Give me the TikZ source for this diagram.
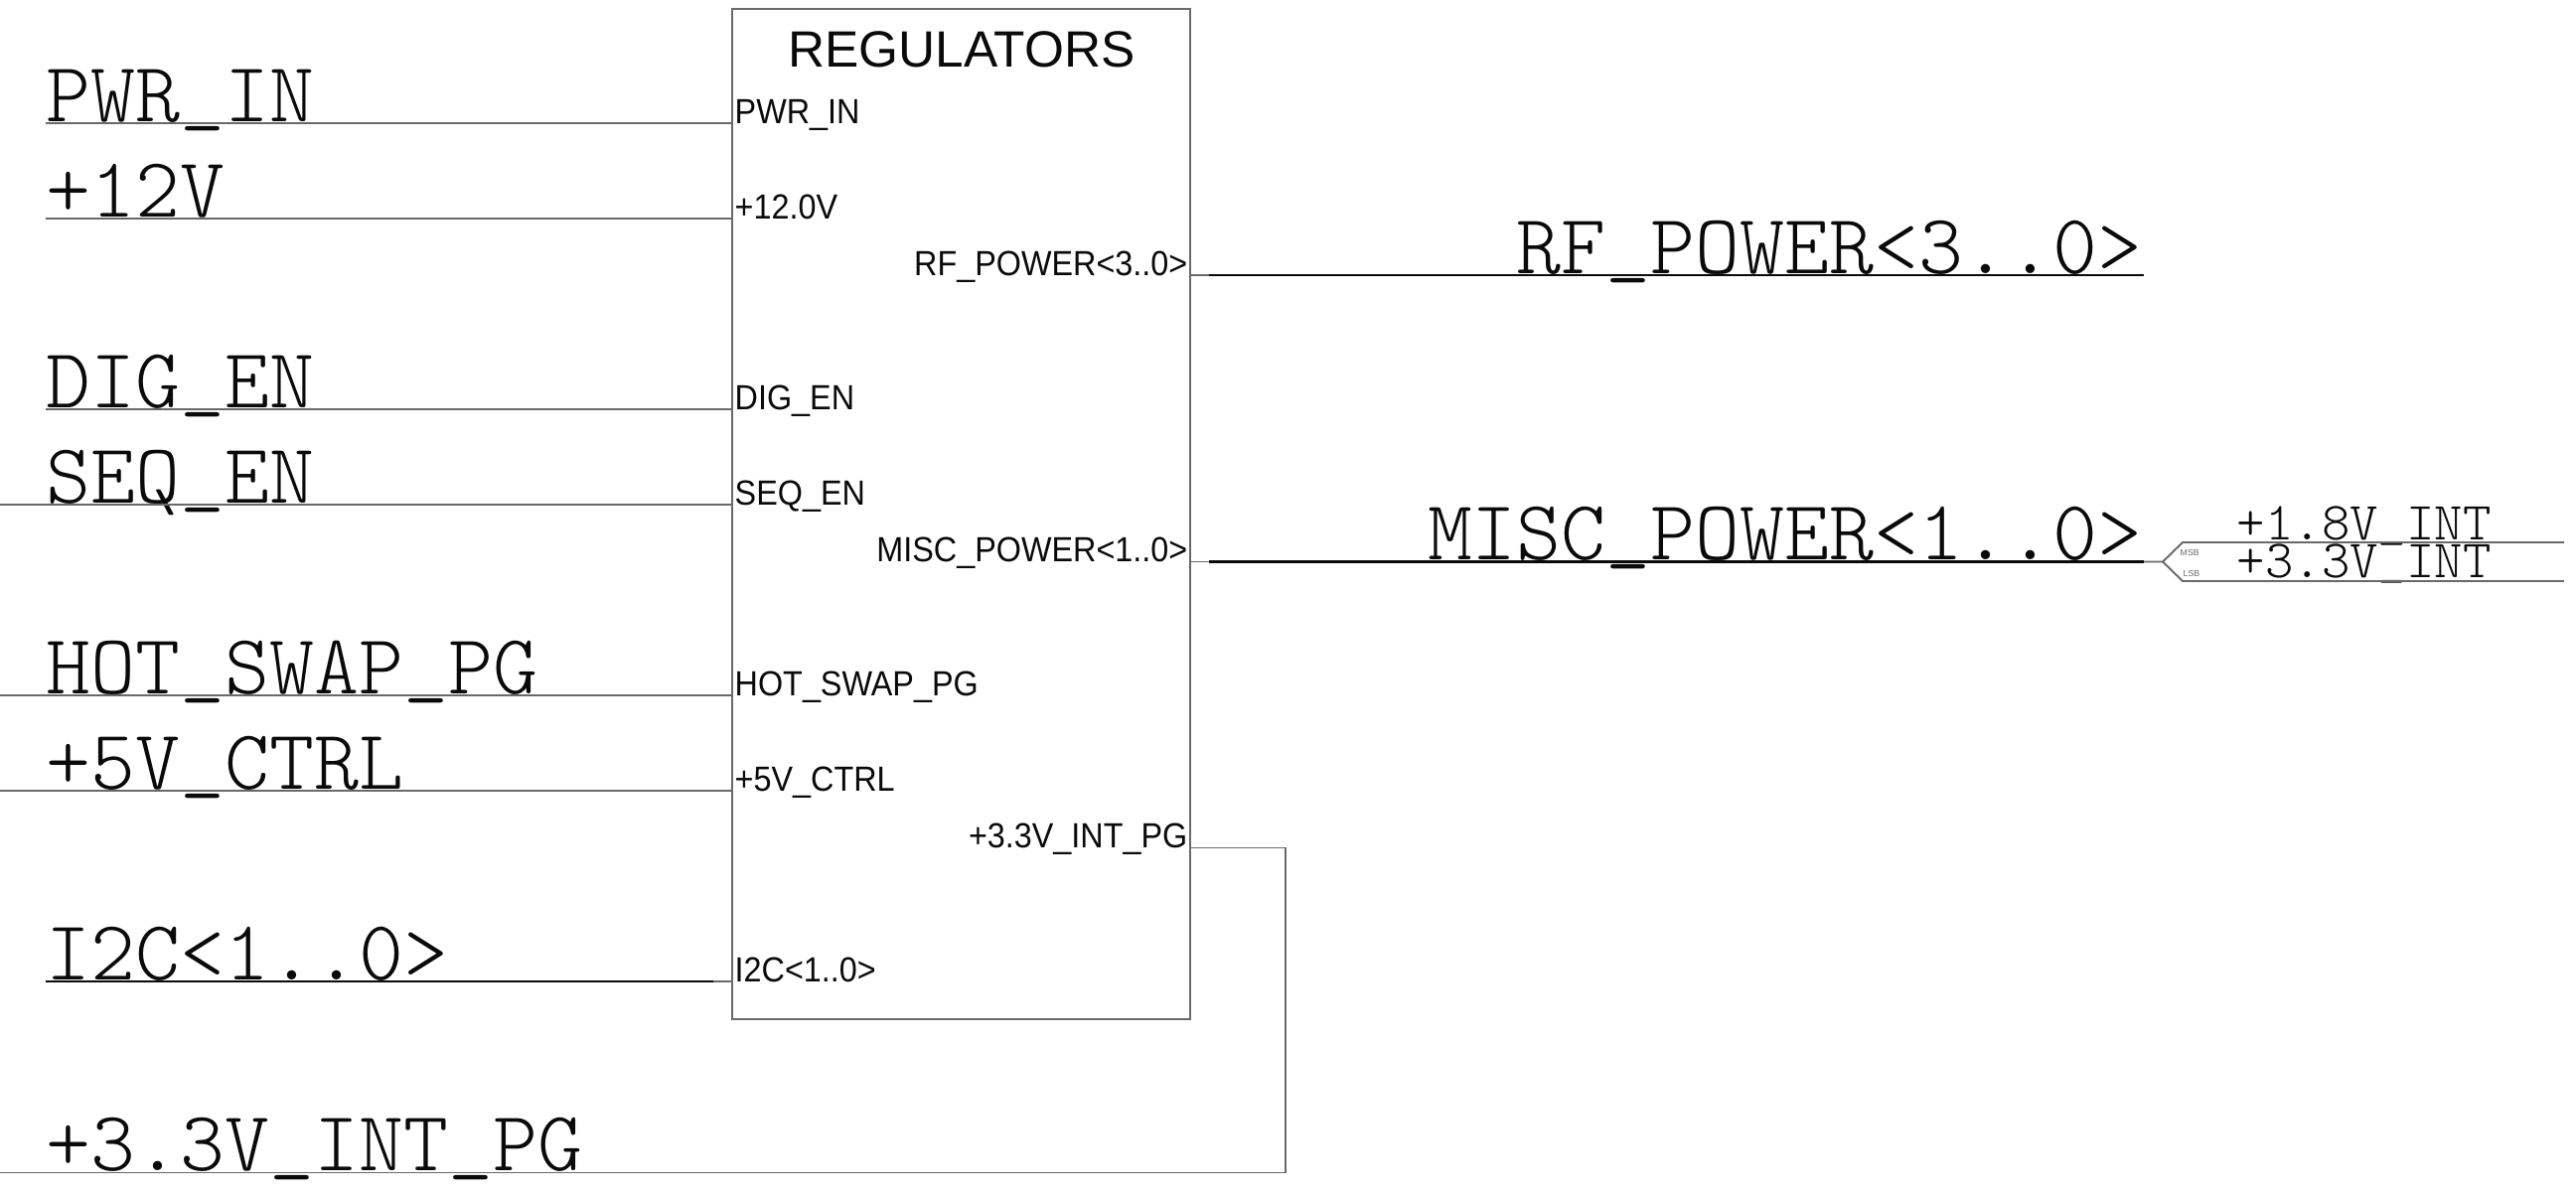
\documentclass[tikz,border=0pt]{standalone}
\usepackage{fontspec}
\setsansfont{Liberation Sans}
\newfontfamily\pinfont[FakeStretch=0.92]{Liberation Sans}
\usetikzlibrary{positioning}
\definecolor{WireGray}{RGB}{105,105,105}
\definecolor{NetBlack}{RGB}{10,10,10}
\newcommand{\netus}{\raisebox{0.07em}{\_}}
\tikzset{
    wire/.style={draw=WireGray, line width=0.55pt},
    bus/.style={draw=NetBlack, line width=0.8pt},
    netlabel/.style={inner sep=0pt, text=NetBlack, font=\fontsize{24.35}{26}\ttfamily\fontseries{l}\selectfont},
    smallnet/.style={inner sep=0pt, text=NetBlack, font=\fontsize{15.4}{17}\ttfamily\fontseries{l}\selectfont},
    pinlabel/.style={inner sep=0pt, text=NetBlack, font=\fontsize{10}{12}\pinfont},
    bitlabel/.style={inner sep=0pt, text=WireGray, font=\fontsize{2.5}{3}\sffamily}
}

\begin{document}
\begin{tikzpicture}[x=0.01cm, y=-0.01cm]
    \useasboundingbox (0,0) rectangle (2593,1203);

    % block
    \node [wire, rectangle, minimum width=4.61cm, minimum height=10.17cm, inner sep=0pt, outer sep=0pt] (regulators) at (967.5,517.5) {};
    \node [inner sep=0pt, anchor=base, text=NetBlack, font=\fontsize{14.6}{16}\sffamily] (title) at (968,67.5) {REGULATORS};

    % inputs
    \coordinate (pwrin) at (46,124);
    \coordinate (plus12) at (46,220);
    \coordinate (digen) at (46,412);
    \coordinate (seqen) at (0,508);
    \coordinate (hotswap) at (0,700);
    \coordinate (plus5) at (0,796);
    \coordinate (i2c) at (46,988);
    \coordinate (i2cend) at (718,988);

    \node [netlabel, anchor=base west] (pwrinnet) at (46,122) {PWR\netus IN};
    \node [netlabel, anchor=base west] (plus12net) at (46,218) {+12V};
    \node [netlabel, anchor=base west] (digennet) at (46,410) {DIG\netus EN};
    \node [netlabel, anchor=base west] (seqennet) at (46,506) {SEQ\netus EN};
    \node [netlabel, anchor=base west] (hotswapnet) at (46,698) {HOT\netus SWAP\netus PG};
    \node [netlabel, anchor=base west] (plus5net) at (46,794) {+5V\netus CTRL};
    \node [netlabel, anchor=base west] (i2cnet) at (46,986) {I2C<1..0>};
    \node [netlabel, anchor=base west] (pgnet) at (46,1178) {+3.3V\netus INT\netus PG};

    \node [pinlabel, anchor=base west] (pwrinpin) at (739,124) {PWR\_IN};
    \node [pinlabel, anchor=base west] (plus12pin) at (739,220) {+12.0V};
    \node [pinlabel, anchor=base west] (digenpin) at (739,412) {DIG\_EN};
    \node [pinlabel, anchor=base west] (seqenpin) at (739,508) {SEQ\_EN};
    \node [pinlabel, anchor=base west] (hotswappin) at (739,700) {HOT\_SWAP\_PG};
    \node [pinlabel, anchor=base west] (plus5pin) at (739,796) {+5V\_CTRL};
    \node [pinlabel, anchor=base west] (i2cpin) at (739,988) {I2C<1..0>};

    \draw [wire] (pwrin) -- (pwrin -| regulators.west);
    \draw [wire] (plus12) -- (plus12 -| regulators.west);
    \draw [wire] (digen) -- (digen -| regulators.west);
    \draw [wire] (seqen) -- (seqen -| regulators.west);
    \draw [wire] (hotswap) -- (hotswap -| regulators.west);
    \draw [wire] (plus5) -- (plus5 -| regulators.west);
    \draw [bus] (i2c) -- (i2cend);
    \draw [wire] (i2cend) -- (i2cend -| regulators.west);

    % outputs
    \coordinate (rfstart) at (1217,277);
    \coordinate (rfend) at (2158,277);
    \coordinate (miscstart) at (1217,565.5);
    \coordinate (miscend) at (2158,565.5);
    \coordinate (tip) at (2177,565.5);
    \coordinate (msbknee) at (2197,546);
    \coordinate (lsbknee) at (2197,585);
    \coordinate (msbend) at (2581,546);
    \coordinate (lsbend) at (2581,585);
    \coordinate (pgout) at (1294,853.5);
    \coordinate (pgleft) at (0,1180.5);

    \node [pinlabel, anchor=base east] (rfpin) at (1196,277) {RF\_POWER<3..0>};
    \node [pinlabel, anchor=base east] (miscpin) at (1196,565) {MISC\_POWER<1..0>};
    \node [pinlabel, anchor=base east] (pgpin) at (1196,853) {+3.3V\_INT\_PG};

    \node [netlabel, anchor=base east] (rfnet) at (2157,275) {RF\netus POWER<3..0>};
    \node [netlabel, anchor=base east] (miscnet) at (2157,563) {MISC\netus POWER<1..0>};
    \node [smallnet, anchor=base west] (msbnet) at (2251,543.5) {+1.8V\netus INT};
    \node [smallnet, anchor=base west] (lsbnet) at (2251,581.5) {+3.3V\netus INT};
    \node [bitlabel, anchor=base west] (msb) at (2194,559) {MSB};
    \node [bitlabel, anchor=base west] (lsb) at (2197,580) {LSB};

    \draw [wire] (rfstart -| regulators.east) -- (rfstart);
    \draw [bus] (rfstart) -- (rfend);
    \draw [wire] (miscstart -| regulators.east) -- (miscstart);
    \draw [bus] (miscstart) -- (miscend);
    \draw [wire] (miscend) -- (tip) -- (msbknee) -- (msbend);
    \draw [wire] (tip) -- (lsbknee) -- (lsbend);
    \draw [wire] (pgout -| regulators.east) -- (pgout) -- (pgout |- pgleft) -- (pgleft);
\end{tikzpicture}
\end{document}
